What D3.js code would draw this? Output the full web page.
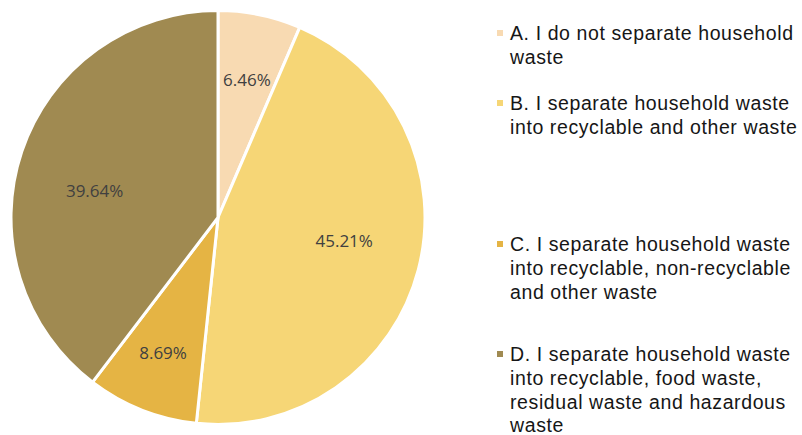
<!DOCTYPE html>
<html><head><meta charset="utf-8">
<script src="https://cdn.jsdelivr.net/npm/d3@7"></script>
<style>body{margin:0;background:#fff}</style>
</head><body>
<svg id="c" width="802" height="435"></svg>
<script>
const categories = ["A","B","C","D"];
const values = [6.46, 45.21, 8.69, 39.64];
const legendLines = [
  ["A. I do not separate household","waste"],
  ["B. I separate household waste","into recyclable and other waste"],
  ["C. I separate household waste","into recyclable, non-recyclable","and other waste"],
  ["D. I separate household waste","into recyclable, food waste,","residual waste and hazardous","waste"]
];
const colors = ["#F8DAB2","#F6D676","#E5B444","#A08A51"];
// label nudges (px) from arc centroid
const labelNudge = [[0.5,0],[-10,-12],[-3,4.5],[10,19]];

const svg = d3.select("#c");
const cx = 218, cy = 217.5, r = 207;
const pie = d3.pie().sort(null).value(d=>d);
const arcs = pie(values);
const arc = d3.arc().innerRadius(0).outerRadius(r);
const labelArc = d3.arc().innerRadius(r*0.68).outerRadius(r*0.68);
const g = svg.append("g").attr("transform",`translate(${cx},${cy})`);
g.selectAll("path").data(arcs).enter().append("path")
  .attr("d",arc).attr("fill",(d,i)=>colors[i])
  .attr("stroke","#fff").attr("stroke-width",3).attr("stroke-linejoin","round");
g.selectAll("text").data(arcs).enter().append("text")
  .attr("transform",(d,i)=>{const c=labelArc.centroid(d);return `translate(${c[0]+labelNudge[i][0]},${c[1]+labelNudge[i][1]})`;})
  .attr("text-anchor","middle").attr("dy","0.35em")
  .attr("font-family","'Open Sans', sans-serif").attr("font-size",17).attr("fill","#404040")
  .text(d=>d.value.toFixed(2)+"%");

const legendBase = [40, 110, 251, 361];
const lg = svg.append("g");
legendLines.forEach((lines,i)=>{
  lg.append("rect").attr("x",497).attr("y",legendBase[i]-10).attr("width",6).attr("height",6).attr("fill",colors[i]);
  lines.forEach((t,j)=>{
    lg.append("text").attr("x",510).attr("y",legendBase[i]+j*23.8)
      .attr("font-family","'Liberation Sans', Arial, sans-serif").attr("font-size",19.5)
      .attr("letter-spacing",0.6).attr("fill","#161616")
      .text(t);
  });
});
</script>
</body></html>
